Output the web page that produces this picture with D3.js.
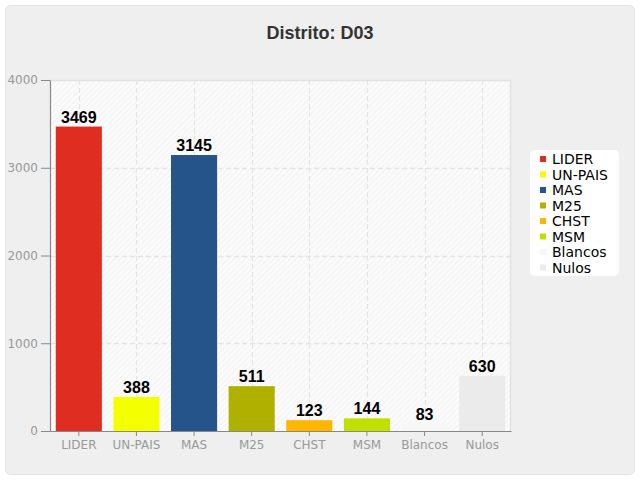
<!DOCTYPE html>
<html>
<head>
<meta charset="utf-8">
<script src="https://cdn.jsdelivr.net/npm/d3@7/dist/d3.min.js"></script>
<style>
  body { margin: 0; background: #fff; }
  svg { display: block; }
</style>
</head>
<body>
<div id="chart"></div>
<script>
// Data
var categories = ["LIDER", "UN-PAIS", "MAS", "M25", "CHST", "MSM", "Blancos", "Nulos"];
var votes = [3469, 388, 3145, 511, 123, 144, 83, 630];
var colors = ["#e02d22", "#f4ff00", "#24548a", "#b0b000", "#ffb600", "#bfe000", "#f7f7f7", "#ebebeb"];
var yTicks = [0, 1000, 2000, 3000, 4000];
var chartTitle = "Distrito: D03";

var width = 640, height = 480;
var margin = {top: 80, right: 129, bottom: 49, left: 50};
var plotW = width - margin.left - margin.right;
var plotH = height - margin.top - margin.bottom;

var data = categories.map(function(c, i) { return {name: c, value: votes[i], color: colors[i]}; });

var svg = d3.select("#chart").append("svg")
    .attr("width", width)
    .attr("height", height);

// pattern for the plot background
var defs = svg.append("defs");
var pat = defs.append("pattern")
    .attr("id", "hatch")
    .attr("patternUnits", "userSpaceOnUse")
    .attr("width", 4).attr("height", 4)
    .attr("patternTransform", "rotate(45)");
pat.append("rect").attr("width", 4).attr("height", 4).attr("fill", "#fbfbfb");
pat.append("line").attr("x1", 0).attr("y1", 0).attr("x2", 0).attr("y2", 4)
    .attr("stroke", "#efefef").attr("stroke-width", 1.5);

// outer panel
svg.append("rect")
    .attr("x", 5.5).attr("y", 5.5)
    .attr("width", width - 11).attr("height", height - 11)
    .attr("rx", 5)
    .attr("fill", "#efefef")
    .attr("stroke", "#e4e4e4");

svg.append("text")
    .attr("x", width / 2)
    .attr("y", 39)
    .attr("text-anchor", "middle")
    .style("font-family", "'Liberation Sans Narrow', 'Liberation Sans', Arial, sans-serif")
    .style("font-weight", "bold")
    .style("font-size", "18px")
    .style("fill", "#333")
    .text(chartTitle);

var g = svg.append("g")
    .attr("transform", "translate(" + margin.left + "," + margin.top + ")");

var x = d3.scaleBand().domain(categories).range([0, plotW]).paddingInner(0.2).paddingOuter(0.1);
var y = d3.scaleLinear().domain([0, 4000]).range([plotH, 0]);

g.append("rect")
    .attr("width", plotW).attr("height", plotH)
    .attr("fill", "url(#hatch)");

// plot border top/right
g.append("path")
    .attr("d", "M0,0.5H" + (plotW - 0.5) + "V" + plotH)
    .attr("fill", "none")
    .attr("stroke", "#e2e2e2")
    .attr("stroke-width", 1.5);

// grid lines
g.append("g").selectAll("line")
    .data(yTicks.slice(1, 4))
    .enter().append("line")
    .attr("x1", 0).attr("x2", plotW)
    .attr("y1", function(d) { return Math.round(y(d)) + 0.5; })
    .attr("y2", function(d) { return Math.round(y(d)) + 0.5; })
    .attr("stroke", "#e4e4e4")
    .attr("stroke-width", 1.5)
    .attr("stroke-dasharray", "5,3");

g.append("g").selectAll("line")
    .data(categories)
    .enter().append("line")
    .attr("x1", function(d) { return Math.round(x(d) + x.bandwidth() / 2) + 0.5; })
    .attr("x2", function(d) { return Math.round(x(d) + x.bandwidth() / 2) + 0.5; })
    .attr("y1", 0).attr("y2", plotH)
    .attr("stroke", "#e4e4e4")
    .attr("stroke-width", 1.2)
    .attr("stroke-dasharray", "5,3");

// bars
g.selectAll(".bar")
    .data(data)
    .enter().append("rect")
    .attr("class", "bar")
    .attr("x", function(d) { return x(d.name); })
    .attr("width", x.bandwidth())
    .attr("y", function(d) { return y(d.value); })
    .attr("height", function(d) { return plotH - y(d.value); })
    .attr("fill", function(d) { return d.color; });

// value labels
g.selectAll(".val")
    .data(data)
    .enter().append("text")
    .attr("class", "val")
    .attr("x", function(d) { return x(d.name) + x.bandwidth() / 2; })
    .attr("y", function(d) { return y(d.value) - 4; })
    .attr("text-anchor", "middle")
    .style("font-family", "'Liberation Sans', Arial, sans-serif")
    .style("font-weight", "bold")
    .style("font-size", "16px")
    .style("fill", "#000")
    .text(function(d) { return d.value; });

// axes
var yAxis = g.append("g")
    .call(d3.axisLeft(y).tickValues(yTicks).tickFormat(d3.format("d"))
      .tickSize(9).tickSizeOuter(0).tickPadding(3));
var xAxis = g.append("g")
    .attr("transform", "translate(0," + plotH + ")")
    .call(d3.axisBottom(x).tickSize(5).tickSizeOuter(0).tickPadding(4));

[xAxis, yAxis].forEach(function(a) {
  a.select(".domain").attr("stroke", "#888").attr("stroke-width", 1.2);
  a.selectAll(".tick line").attr("stroke", "#888");
  a.selectAll(".tick text")
    .style("font-family", "'DejaVu Sans', sans-serif")
    .style("font-size", "12px")
    .style("fill", "#999");
});

// legend
var legend = svg.append("g").attr("transform", "translate(530,150)");
legend.append("rect")
    .attr("width", 89).attr("height", 126)
    .attr("rx", 5)
    .attr("fill", "#fff");

var item = legend.selectAll(".item")
    .data(data)
    .enter().append("g")
    .attr("class", "item")
    .attr("transform", function(d, i) { return "translate(10," + (9 + i * 15.5) + ")"; });

item.append("rect")
    .attr("x", 0).attr("y", -3)
    .attr("width", 6).attr("height", 6)
    .attr("fill", function(d) { return d.color; });

item.append("text")
    .attr("x", 12)
    .attr("y", 5)
    .style("font-family", "'DejaVu Sans', sans-serif")
    .style("font-size", "14px")
    .style("fill", "#000")
    .text(function(d) { return d.name; });
</script>
</body>
</html>
